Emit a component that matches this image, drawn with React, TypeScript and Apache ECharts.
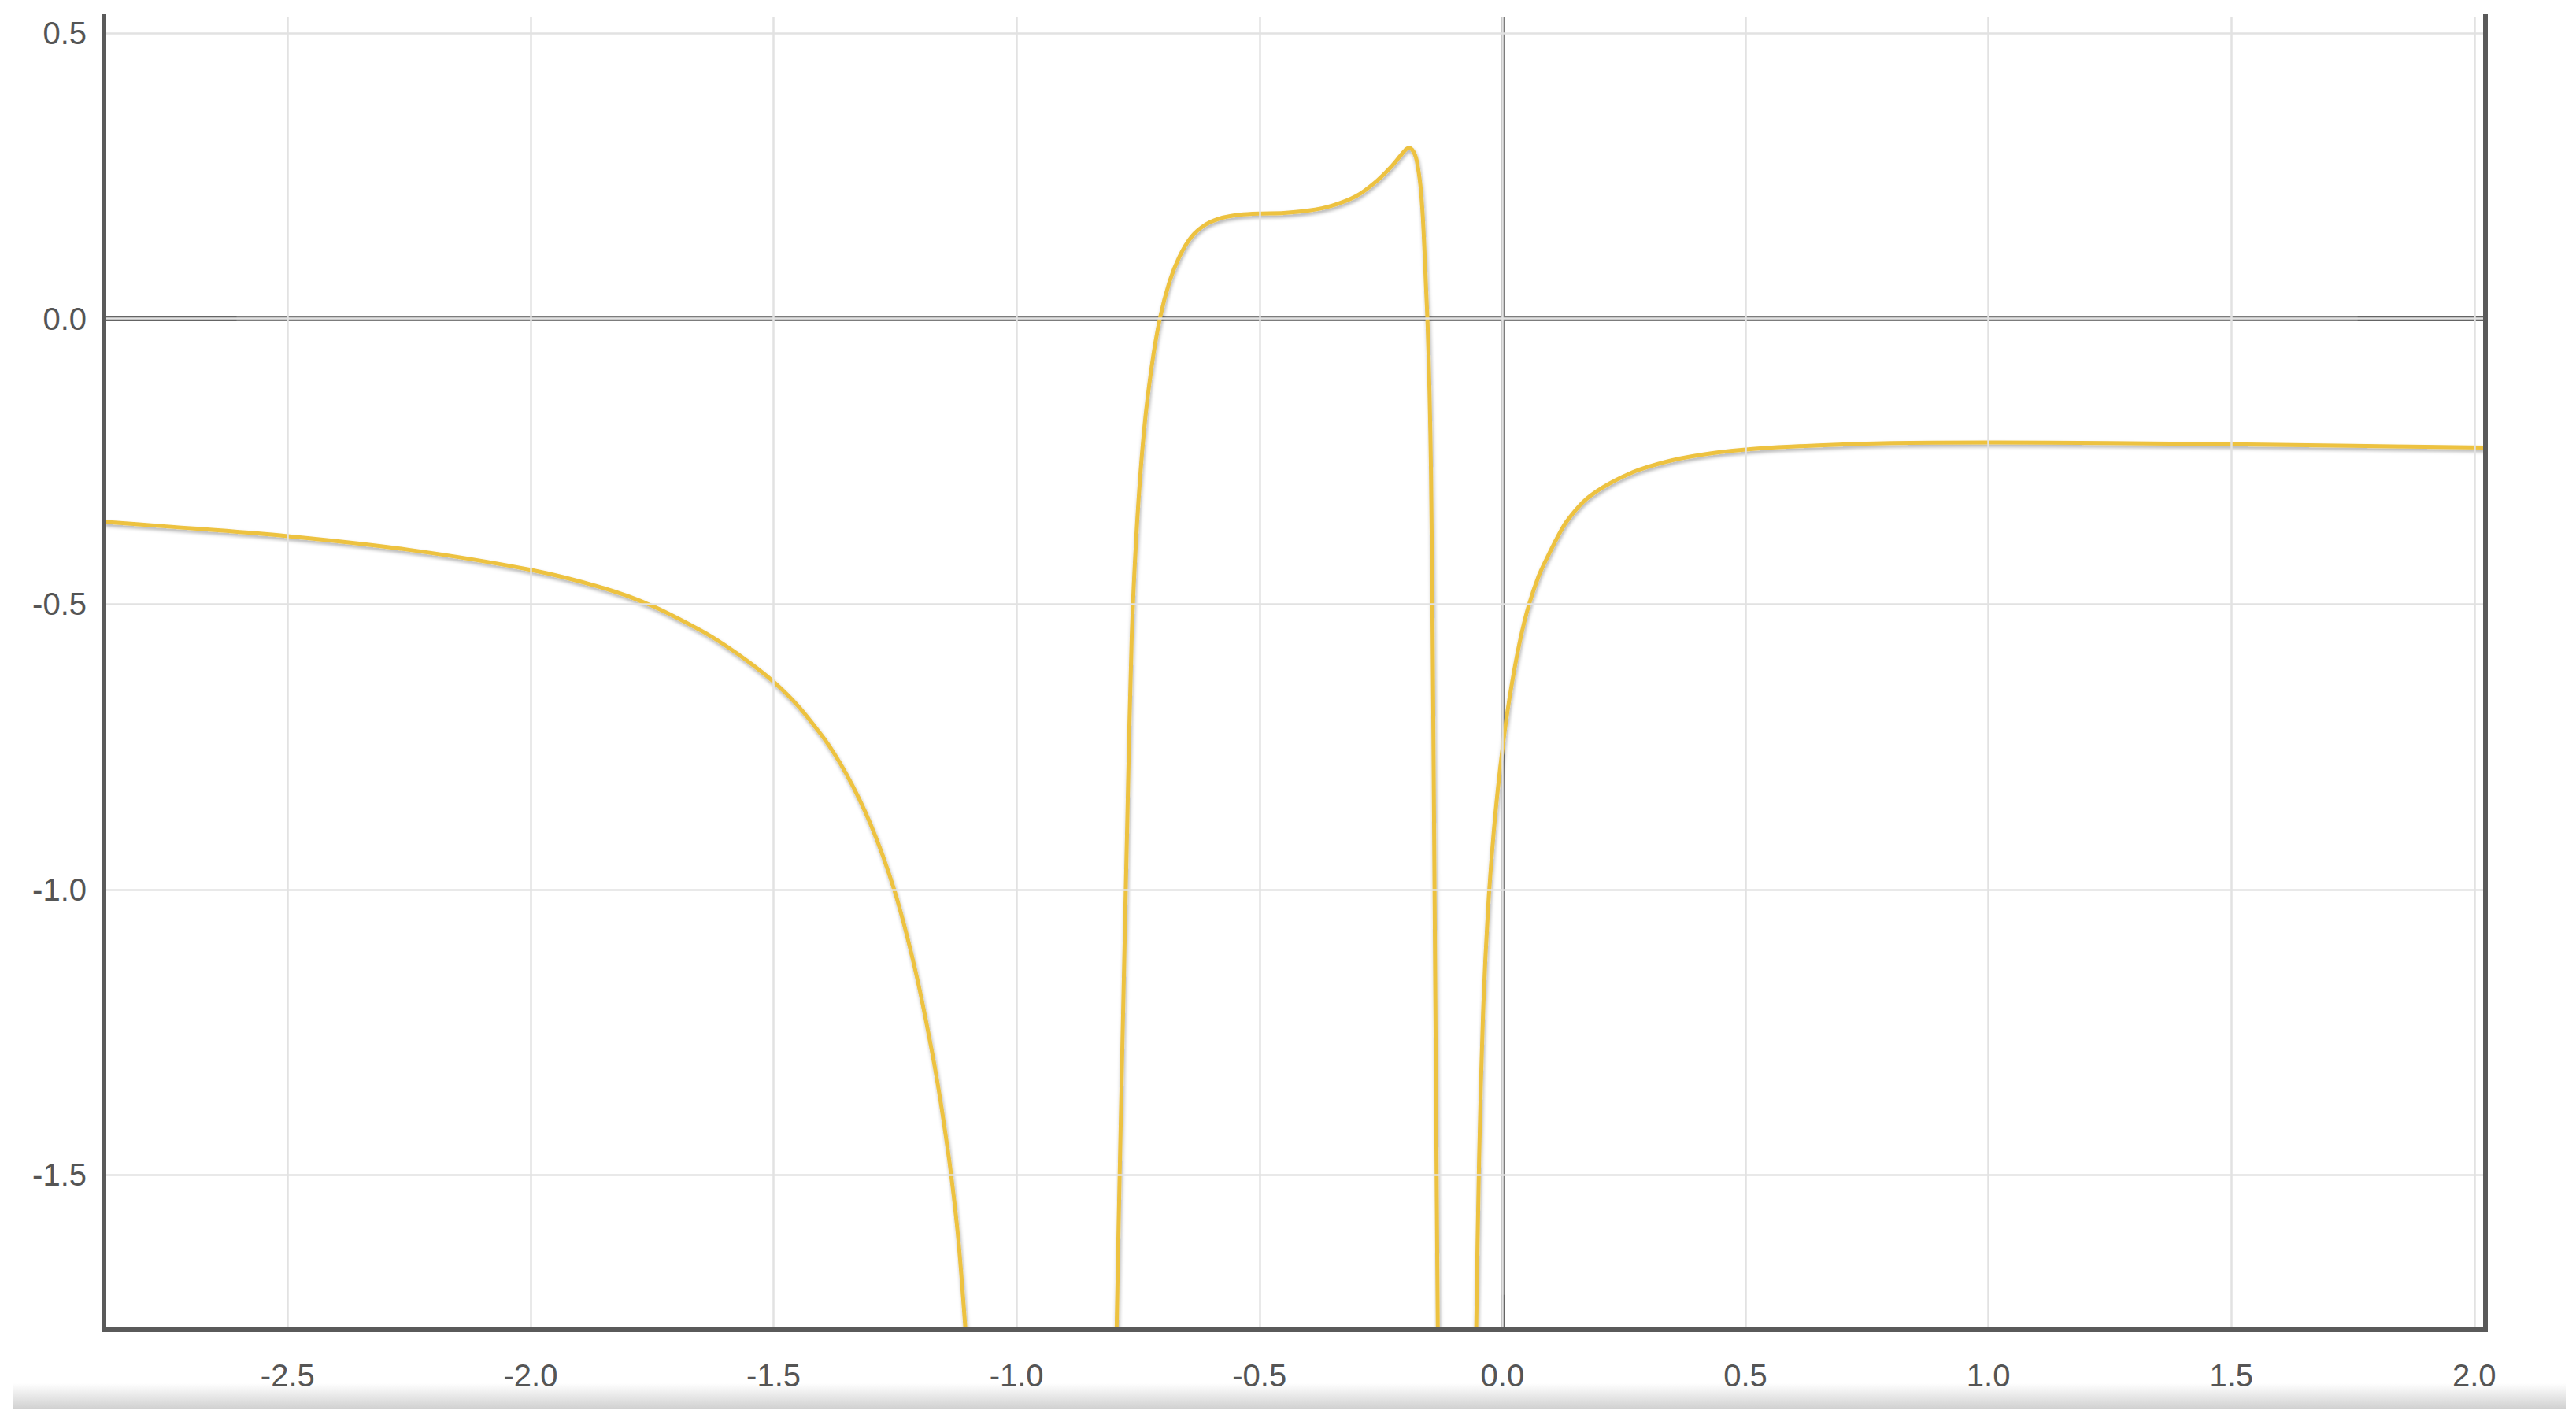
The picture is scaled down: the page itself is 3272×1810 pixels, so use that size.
import React, { useEffect, useRef } from "react";
import * as echarts from "echarts";

// Axis ranges and ticks
const xMin = -2.878;
const xMax = 2.023;
const yMin = -1.771;
const yMax = 0.529;
const xTicks = [-2.5, -2.0, -1.5, -1.0, -0.5, 0.0, 0.5, 1.0, 1.5, 2.0];
const yTicks = [-1.5, -1.0, -0.5, 0.0, 0.5];

// Curve branches: [x, y]
const branchLeft = [
  [-2.878, -0.356], [-2.75, -0.364], [-2.5, -0.381], [-2.25, -0.405],
  [-2.0, -0.44], [-1.85, -0.472], [-1.75, -0.503], [-1.65, -0.546],
  [-1.6, -0.572], [-1.55, -0.602], [-1.5, -0.636], [-1.45, -0.678],
  [-1.4, -0.731], [-1.375, -0.762], [-1.35, -0.798], [-1.325, -0.839],
  [-1.3, -0.886], [-1.275, -0.941], [-1.25, -1.005], [-1.23, -1.066],
  [-1.21, -1.135], [-1.195, -1.193], [-1.18, -1.257], [-1.1675, -1.314],
  [-1.155, -1.378], [-1.136, -1.49], [-1.12, -1.61], [-1.106, -1.76],
  [-1.099, -1.85],
];

const branchMiddle = [
  [-0.797, -1.95], [-0.794, -1.771], [-0.787, -1.47], [-0.78, -1.19],
  [-0.772, -0.88], [-0.763, -0.56], [-0.752, -0.36], [-0.738, -0.2],
  [-0.722, -0.085], [-0.705, 0.0], [-0.685, 0.065], [-0.665, 0.108],
  [-0.64, 0.143], [-0.61, 0.165], [-0.575, 0.177], [-0.54, 0.182],
  [-0.5, 0.184], [-0.45, 0.185], [-0.4, 0.189], [-0.35, 0.198],
  [-0.3, 0.215], [-0.26, 0.24], [-0.23, 0.265], [-0.21, 0.285],
  [-0.2, 0.295], [-0.193, 0.299], [-0.186, 0.296], [-0.18, 0.287],
  [-0.176, 0.275], [-0.169, 0.235], [-0.164, 0.18], [-0.16, 0.11],
  [-0.157, 0.05], [-0.154, -0.01], [-0.15, -0.13], [-0.147, -0.27],
  [-0.144, -0.52], [-0.141, -0.85], [-0.138, -1.2], [-0.135, -1.55],
  [-0.133, -1.771], [-0.131, -1.95],
];

const branchRight = [
  [-0.057, -1.95], [-0.054, -1.771], [-0.048, -1.47], [-0.04, -1.22],
  [-0.03, -1.04], [-0.018, -0.9], [-0.005, -0.79], [0.01, -0.69],
  [0.03, -0.59], [0.05, -0.515], [0.075, -0.45], [0.1, -0.405],
  [0.115, -0.38], [0.13, -0.358], [0.15, -0.336], [0.17, -0.318],
  [0.195, -0.302], [0.22, -0.289], [0.25, -0.276], [0.28, -0.265],
  [0.35, -0.248], [0.43, -0.236], [0.52, -0.228], [0.65, -0.222],
  [0.8, -0.218], [1.0, -0.217], [1.25, -0.218], [1.5, -0.22],
  [1.75, -0.223], [2.023, -0.226],
];

// Darker overlapping pieces of the zero lines
const zeroDarkLeft = [xMin, -2.605];
const zeroDarkRight = [1.76, xMax];
const zeroDarkBottom = [yMin, -1.71];

const CURVE = "#edc240";
const BORDER = "#5a5a5a";
const GRID = "#e2e2e2";
const ZERO = "#7c7c7c";
const ZERO_DARK = "#646464";
const LABEL = "#555555";
const FONT = "'Liberation Sans', Arial, sans-serif";

export default function App() {
  const ref = useRef<HTMLDivElement>(null);

  useEffect(() => {
    if (!ref.current) return;
    const chart = echarts.init(ref.current, null, { renderer: "svg" });
    const curveStyle = {
      color: CURVE,
      width: 5,
      shadowColor: "rgba(0,0,0,0.32)",
      shadowBlur: 4,
      shadowOffsetX: 1,
      shadowOffsetY: 3,
    };
    const mkCurve = (data: number[][]) => ({
      type: "line",
      data,
      showSymbol: false,
      symbol: "none",
      smooth: 0.3,
      clip: true,
      z: 5,
      silent: true,
      lineStyle: curveStyle,
      emphasis: { disabled: true },
    });
    chart.setOption({
      animation: false,
      backgroundColor: "#ffffff",
      grid: { left: 132, right: 115, top: 21, bottom: 121, containLabel: false },
      xAxis: {
        type: "value",
        min: xMin,
        max: xMax,
        z: 10,
        axisLine: { show: true, onZero: false, lineStyle: { color: BORDER, width: 6, cap: "square" } },
        axisTick: { show: false, customValues: xTicks },
        axisLabel: {
          customValues: xTicks,
          formatter: (v: number) => v.toFixed(1),
          color: LABEL,
          fontSize: 40,
          fontFamily: FONT,
          margin: 38,
        },
        splitLine: { show: true, lineStyle: { color: GRID, width: 2.5 } },
      },
      yAxis: [
        {
          type: "value",
          min: yMin,
          max: yMax,
          position: "left",
          z: 10,
          axisLine: { show: true, onZero: false, lineStyle: { color: BORDER, width: 6, cap: "square" } },
          axisTick: { show: false, customValues: yTicks },
          axisLabel: {
            customValues: yTicks,
            formatter: (v: number) => v.toFixed(1),
            color: LABEL,
            fontSize: 40,
            fontFamily: FONT,
            margin: 22,
          },
          splitLine: { show: true, lineStyle: { color: GRID, width: 2.5 } },
        },
        {
          type: "value",
          min: yMin,
          max: yMax,
          position: "right",
          z: 10,
          axisLine: { show: true, onZero: false, lineStyle: { color: BORDER, width: 6, cap: "square" } },
          axisTick: { show: false },
          axisLabel: { show: false },
          splitLine: { show: false },
        },
      ],
      graphic: [
        {
          type: "rect",
          z: 0,
          silent: true,
          shape: { x: 16, y: 1757, width: 3243, height: 33 },
          style: {
            fill: new echarts.graphic.LinearGradient(0, 0, 0, 1, [
              { offset: 0, color: "#ffffff" },
              { offset: 1, color: "#d0d0d0" },
            ]),
          },
        },
      ],
      series: [
        {
          type: "line",
          data: [],
          z: 2,
          silent: true,
          markLine: {
            silent: true,
            symbol: "none",
            animation: false,
            label: { show: false },
            emphasis: { disabled: true },
            lineStyle: { color: ZERO, width: 6, type: "solid", opacity: 1 },
            data: [
              { yAxis: 0 },
              { xAxis: 0 },
              [
                { coord: [zeroDarkLeft[0], 0], lineStyle: { color: ZERO_DARK, width: 6, type: "solid" } },
                { coord: [zeroDarkLeft[1], 0] },
              ],
              [
                { coord: [zeroDarkRight[0], 0], lineStyle: { color: ZERO_DARK, width: 6, type: "solid" } },
                { coord: [zeroDarkRight[1], 0] },
              ],
              [
                { coord: [0, zeroDarkBottom[0]], lineStyle: { color: ZERO_DARK, width: 6, type: "solid" } },
                { coord: [0, zeroDarkBottom[1]] },
              ],
            ],
          },
        },
        mkCurve(branchLeft),
        mkCurve(branchMiddle),
        mkCurve(branchRight),
      ],
    });
    return () => chart.dispose();
  }, []);

  return (
    <div
      ref={ref}
      style={{ position: "absolute", left: 0, top: 0, width: 3272, height: 1810, background: "#fff" }}
    />
  );
}
